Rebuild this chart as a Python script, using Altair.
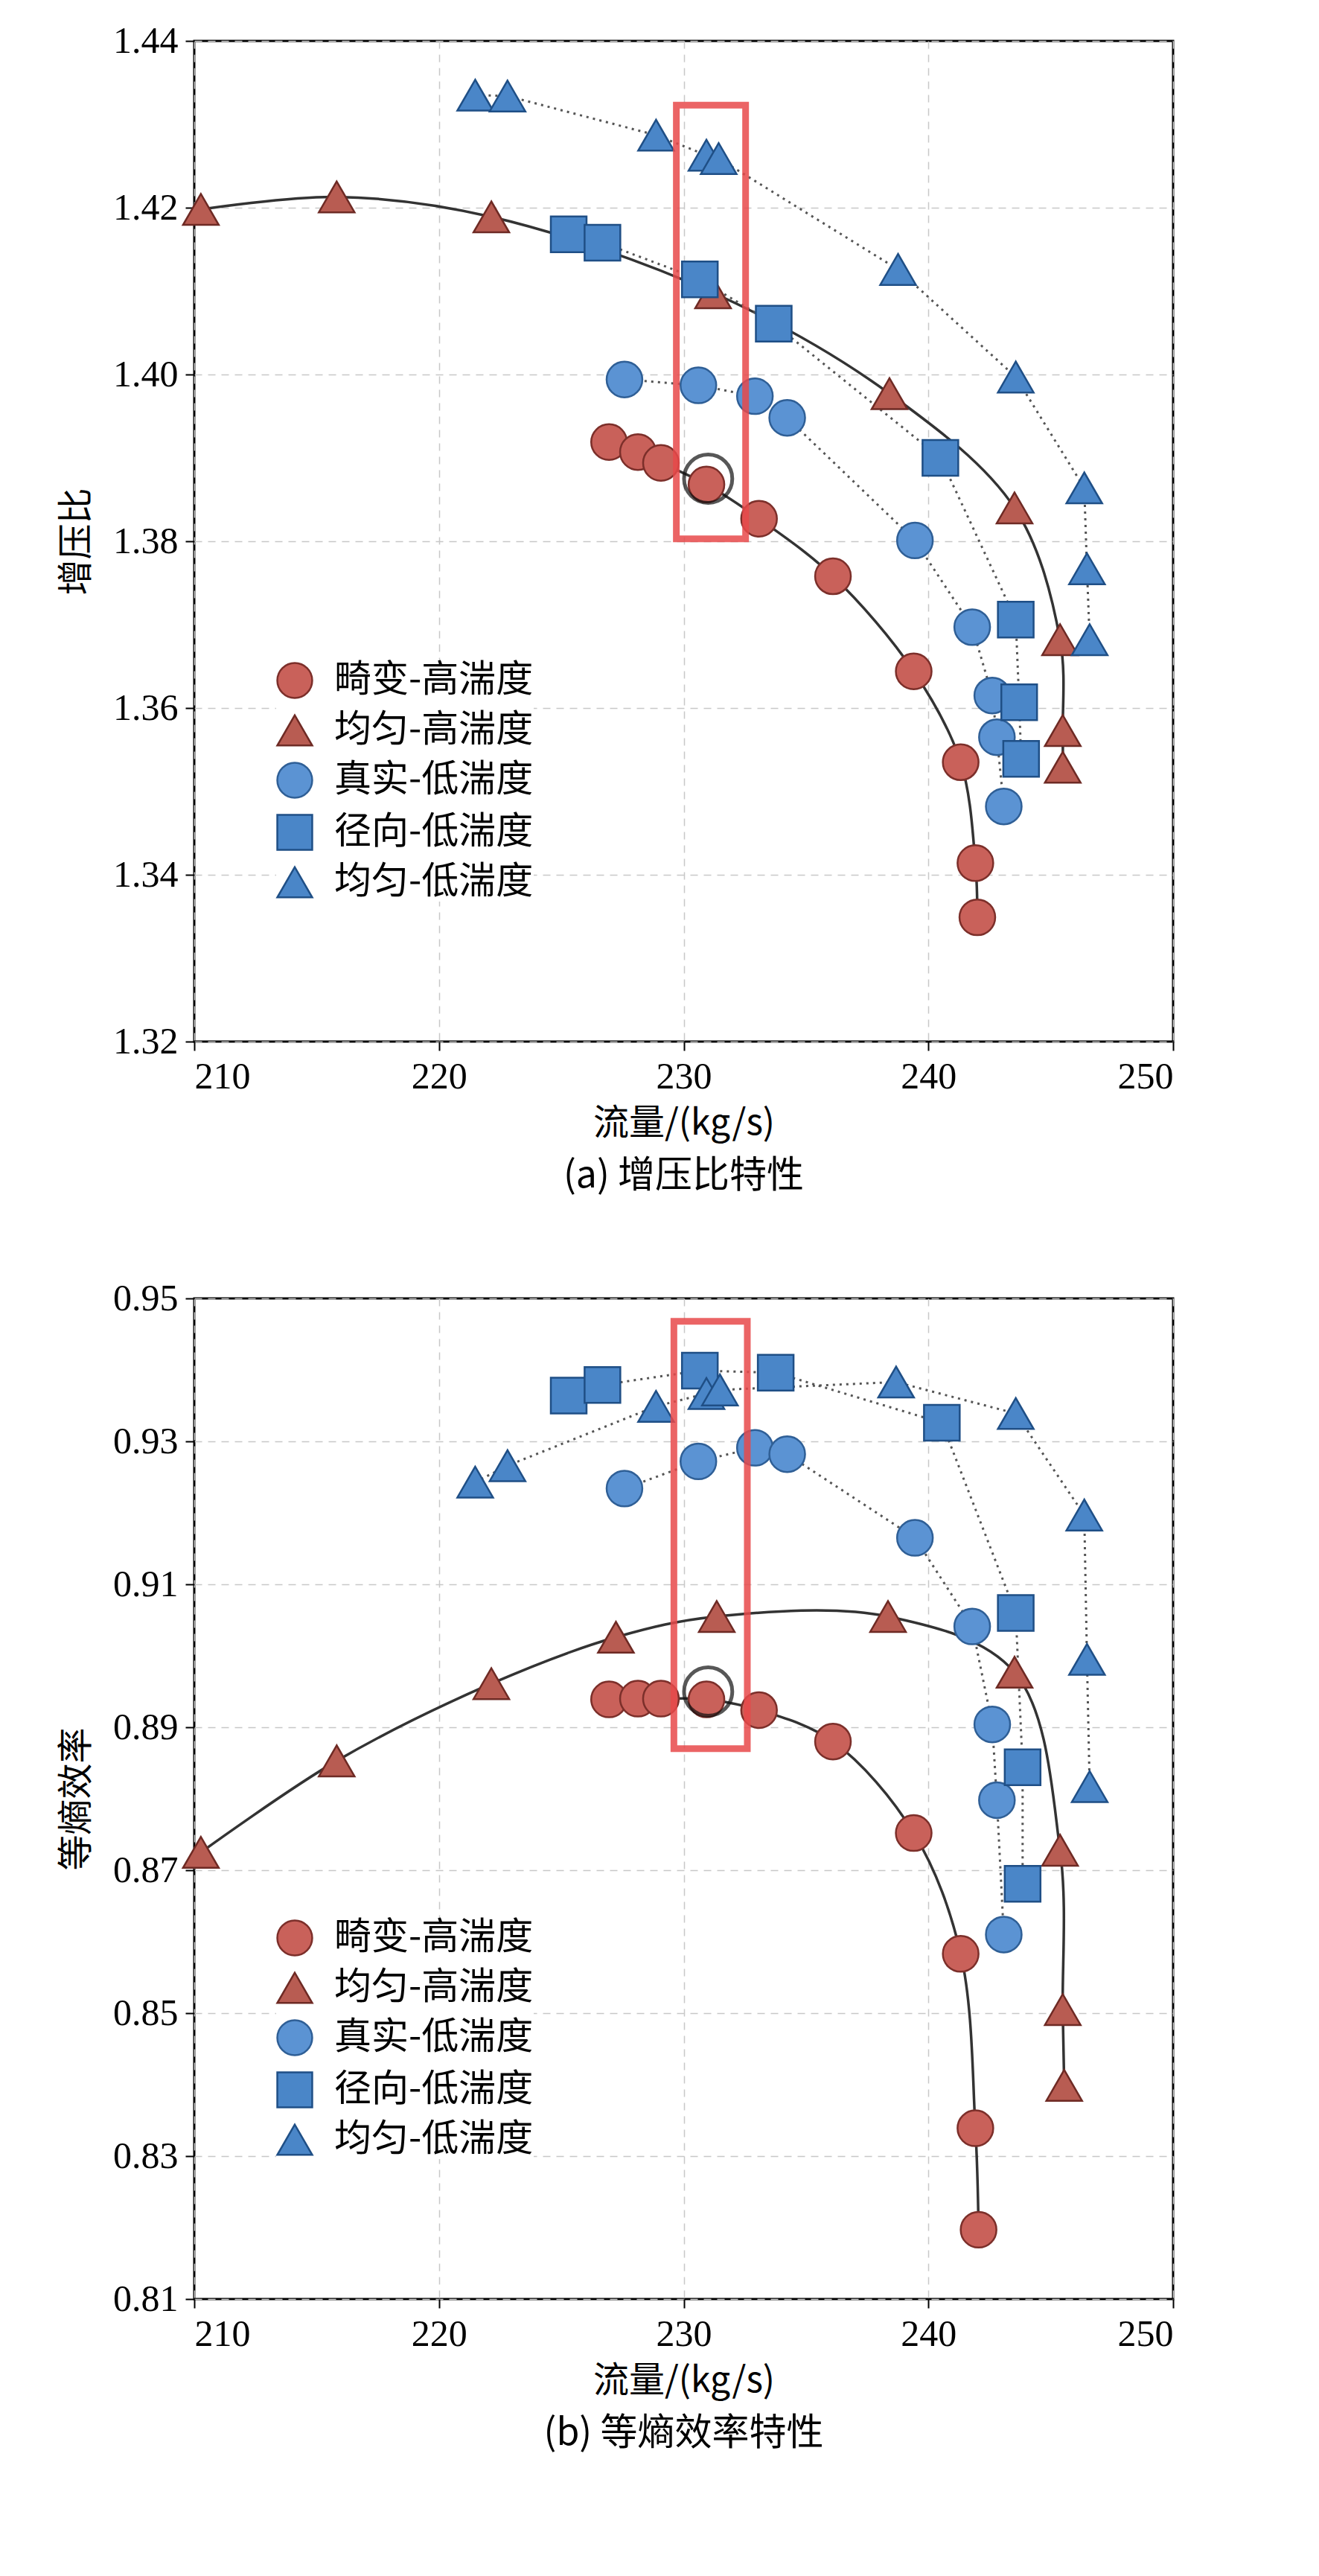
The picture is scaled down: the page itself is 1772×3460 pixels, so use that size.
import pandas as pd
import altair as alt

SERIES = ["畸变-高湍度", "均匀-高湍度", "真实-低湍度", "径向-低湍度", "均匀-低湍度"]
SHAPES = ["circle", "triangle-up", "circle", "square", "triangle-up"]
FILLS = ["#c9615a", "#b85c52", "#5b93d3", "#4a86c8", "#4a86c8"]
STROKES = ["#7c2f2a", "#6e2a24", "#2f5f96", "#1f4f86", "#1f4f86"]

# (a) pressure ratio
a_x = {
    "畸变-高湍度": [226.95, 228.13, 229.07, 230.93, 233.08, 236.10, 239.40, 241.32, 241.92, 242.0],
    "均匀-高湍度": [210.27, 215.82, 222.14, 231.2, 238.41, 243.52, 245.38, 245.49, 245.49],
    "真实-低湍度": [227.58, 230.60, 232.91, 234.23, 239.45, 241.79, 242.61, 242.80, 243.08],
    "径向-低湍度": [225.30, 226.68, 230.66, 233.68, 240.49, 243.57, 243.71, 243.79],
    "均匀-低湍度": [221.48, 222.80, 228.87, 230.93, 231.43, 238.76, 243.57, 246.37, 246.48, 246.59],
}
a_y = {
    "畸变-高湍度": [1.3919, 1.3907, 1.3894, 1.3868, 1.3827, 1.3758, 1.3644, 1.3535, 1.3414, 1.3349],
    "均匀-高湍度": [1.4198, 1.4213, 1.4189, 1.4098, 1.3977, 1.3840, 1.3682, 1.3573, 1.3529],
    "真实-低湍度": [1.3994, 1.3987, 1.3974, 1.3948, 1.3801, 1.3697, 1.3615, 1.3565, 1.3482],
    "径向-低湍度": [1.4168, 1.4158, 1.4114, 1.4061, 1.3900, 1.3706, 1.3607, 1.3539],
    "均匀-低湍度": [1.4335, 1.4334, 1.4287, 1.4263, 1.4259, 1.4126, 1.3997, 1.3864, 1.3767, 1.3682],
}

# (b) isentropic efficiency
b_x = {
    "畸变-高湍度": [226.95, 228.13, 229.07, 230.93, 233.08, 236.10, 239.40, 241.32, 241.92, 242.05],
    "均匀-高湍度": [210.27, 215.82, 222.14, 227.23, 231.35, 238.35, 243.52, 245.38, 245.49, 245.55],
    "真实-低湍度": [227.58, 230.60, 232.91, 234.23, 239.45, 241.79, 242.61, 242.80, 243.08],
    "径向-低湍度": [225.30, 226.68, 230.66, 233.76, 240.55, 243.57, 243.85, 243.85],
    "均匀-低湍度": [221.48, 222.80, 228.87, 230.93, 231.48, 238.68, 243.57, 246.37, 246.48, 246.59],
}
b_y = {
    "畸变-高湍度": [0.8939, 0.8940, 0.8940, 0.8939, 0.8924, 0.8880, 0.8752, 0.8583, 0.8339, 0.8197],
    "均匀-高湍度": [0.8725, 0.8853, 0.8961, 0.9026, 0.9055, 0.9055, 0.8977, 0.8728, 0.8505, 0.8399],
    "真实-低湍度": [0.9234, 0.9272, 0.9291, 0.9282, 0.9165, 0.9041, 0.8904, 0.8798, 0.8610],
    "径向-低湍度": [0.9364, 0.9379, 0.9399, 0.9396, 0.9326, 0.9060, 0.8844, 0.8681],
    "均匀-低湍度": [0.9243, 0.9266, 0.9349, 0.9367, 0.9372, 0.9383, 0.9339, 0.9197, 0.8995, 0.8817],
}

# highlight box and ring (x0, x1, y0, y1) / (x, y)
a_box = [229.70, 232.53, 1.3803, 1.4323]
a_ring = [231.0, 1.3875]
b_box = [229.60, 232.60, 0.8870, 0.9468]
b_ring = [231.0, 0.8950]

SERIF = "Liberation Serif"
CJK = "Noto Sans CJK SC"
W, H = 1315, 1344


def to_df(xs, ys):
    rows = []
    for s in SERIES:
        for i, (x, y) in enumerate(zip(xs[s], ys[s])):
            rows.append({"series": s, "x": x, "y": y, "i": i, "high": "高" in s})
    return pd.DataFrame(rows)


def panel(xs, ys, ydom, ytitle, caption, box, ring):
    df = to_df(xs, ys)
    xsc = alt.Scale(domain=[210, 250], nice=False)
    ysc = alt.Scale(domain=ydom, nice=False, zero=False)
    x_axis = alt.Axis(values=[210, 220, 230, 240, 250], title="流量/(kg/s)", titleFont=CJK,
                      titleFontSize=48, titleFontWeight="normal", labelFont=SERIF,
                      labelFontSize=50, labelColor="black", titleColor="black",
                      tickColor="black", tickSize=12, tickWidth=2, domain=False,
                      grid=True, gridDash=[10, 8], gridColor="#c8c8c8", gridWidth=1.5,
                      labelPadding=10, titlePadding=14)
    yticks = [round(ydom[0] + k * 0.02, 2) for k in range(8)]
    y_axis = alt.Axis(values=yticks, format=".2f", title=ytitle, titleFont=CJK,
                      titleFontSize=48, titleFontWeight="normal", labelFont=SERIF,
                      labelFontSize=50, labelColor="black", titleColor="black",
                      tickColor="black", tickSize=12, tickWidth=2, domain=False,
                      grid=True, gridDash=[10, 8], gridColor="#c8c8c8", gridWidth=1.5,
                      labelPadding=10, titlePadding=24)
    base = alt.Chart(df).encode(
        x=alt.X("x:Q", scale=xsc, axis=x_axis),
        y=alt.Y("y:Q", scale=ysc, axis=y_axis),
        detail="series:N", order="i:Q",
    )
    solid = base.transform_filter("datum.high").mark_line(
        color="#333333", strokeWidth=3.5, interpolate="catmull-rom")
    dotted = base.transform_filter("!datum.high").mark_line(
        color="#555555", strokeWidth=3, strokeDash=[3, 6])

    legend = alt.Legend(title=None, orient="none", legendX=110, legendY=H - 510,
                        labelFont=CJK, labelFontSize=50, labelColor="black", labelLimit=0,
                        symbolSize=2200, symbolStrokeWidth=2.5, rowPadding=12,
                        labelOffset=28, fillColor="white")
    pts = alt.Chart(df).mark_point(filled=True, opacity=1, size=2300, strokeWidth=2.5).encode(
        x=alt.X("x:Q", scale=xsc),
        y=alt.Y("y:Q", scale=ysc),
        shape=alt.Shape("series:N", scale=alt.Scale(domain=SERIES, range=SHAPES), legend=legend),
        fill=alt.Fill("series:N", scale=alt.Scale(domain=SERIES, range=FILLS), legend=legend),
        stroke=alt.Stroke("series:N", scale=alt.Scale(domain=SERIES, range=STROKES), legend=legend),
    )
    bdf = pd.DataFrame([{"x0": box[0], "x1": box[1], "y0": box[2], "y1": box[3]}])
    rect = alt.Chart(bdf).mark_rect(fill=None, stroke="#e8494a", strokeWidth=9, opacity=0.85).encode(
        x=alt.X("x0:Q", scale=xsc), x2="x1:Q", y=alt.Y("y0:Q", scale=ysc), y2="y1:Q")
    rdf = pd.DataFrame([{"x": ring[0], "y": ring[1]}])
    ringm = alt.Chart(rdf).mark_point(shape="circle", size=4200, filled=False, color="#111111",
                                      strokeWidth=5).encode(
        x=alt.X("x:Q", scale=xsc), y=alt.Y("y:Q", scale=ysc))
    return alt.layer(solid, dotted, pts, ringm, rect).properties(
        width=W, height=H,
        title=alt.TitleParams(caption, orient="bottom", font=CJK, fontSize=50,
                              fontWeight="normal", color="black", offset=22),
    )


top = panel(a_x, a_y, [1.32, 1.44], "增压比", "(a) 增压比特性", a_box, a_ring)
bot = panel(b_x, b_y, [0.81, 0.95], "等熵效率", "(b) 等熵效率特性", b_box, b_ring)

chart = alt.vconcat(top, bot, spacing=110).resolve_scale(
    shape="independent", fill="independent", stroke="independent"
).properties(
    padding={"left": 70, "top": 20, "right": 10, "bottom": 10}, background="white"
).configure_view(stroke="black", strokeWidth=3)

chart.save("out.html", embed_options={"renderer": "svg", "actions": False})
